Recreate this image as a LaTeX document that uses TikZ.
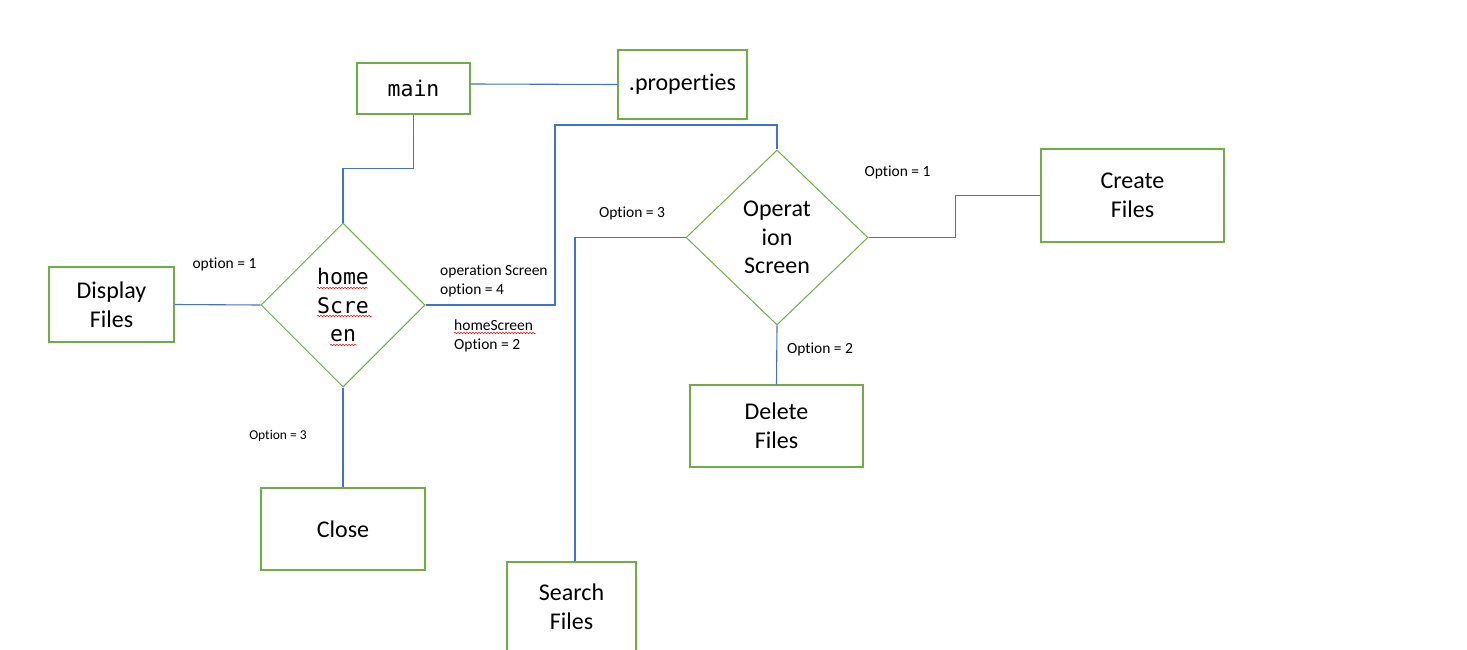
\documentclass[tikz,border=0pt]{standalone}
\usepackage{fontspec}
\setmainfont[Ligatures={NoCommon}]{Carlito}
\newfontfamily\codefont{DejaVu Sans Mono}
\usetikzlibrary{shapes.geometric,decorations.pathmorphing}
\definecolor{boxgreen}{HTML}{70AD47}
\definecolor{lineblue}{HTML}{4472C4}
\tikzset{
  x=1pt,y=-1pt,
  box/.style={draw=boxgreen,line width=1.2pt,rectangle,inner sep=0pt,align=center,
    font=\fontsize{24}{29}\selectfont},
  dia/.style={draw=boxgreen,line width=1pt,diamond,inner sep=0pt,align=center},
  conn/.style={draw=lineblue,line width=1.1pt},
  lbl/.style={inner sep=0pt,align=left,font=\fontsize{15.5}{19}\selectfont},
  spell/.style={draw=red,line width=0.5pt,decorate,decoration={snake,amplitude=0.7pt,segment length=3pt}}
}
\begin{document}
\begin{tikzpicture}
\useasboundingbox (0,0) rectangle (1467,650);
\begin{scope}
\clip (0,0) rectangle (1467,650);
% nodes
\node[box,minimum width=113pt,minimum height=51pt,font=\codefont\fontsize{21.5}{28}\selectfont] (main) at (413.5,88.5) {\raisebox{-2pt}{main}};
\node[box,minimum width=129pt,minimum height=69pt] (props) at (682.5,84.5) {.properties};
\node[box,minimum width=125pt,minimum height=75pt] (disp) at (111.5,304.5) {Display\\Files};
\node[dia,minimum width=164pt,minimum height=164pt,font=\codefont\fontsize{21.5}{28.5}\selectfont] (home) at (343,305) {home\\Scre\\en};
\node[box,minimum width=164pt,minimum height=82pt] (close) at (343,529) {Close};
\node[dia,minimum width=182pt,minimum height=175pt,font=\fontsize{24}{28.5}\selectfont] (ops) at (777,237.5) {Operat\\ion\\Screen};
\node[box,minimum width=183pt,minimum height=93pt] (create) at (1132.5,195.5) {Create\\Files};
\node[box,minimum width=173pt,minimum height=82pt] (delete) at (776.5,426) {Delete\\Files};
\node[box,minimum width=129pt,minimum height=89pt] (search) at (571.5,606.5) {Search\\Files};
% spelling marks
\draw[spell] (317,288) -- (368,288);
\draw[spell] (317,316) -- (372,316);
\draw[spell] (330,345) -- (357,345);
\draw[spell] (454,333) -- (536,333);
% connectors
\coordinate (j1) at (555,125);
\draw[conn] ([yshift=4.5pt]main.east) -- (props.west);
\draw[conn] (main.south) -- ++(0,54) -| (home.north);
\draw[conn] (disp.east) -- (home.west);
\draw[conn] (home.south) -- (close.north);
\draw[conn] (home.east) -| (j1) -| (ops.north);
\draw[conn] (ops.east) -- ++(87,0) |- (create.west);
\draw[conn] (ops.west) -| ([xshift=3.5pt]search.north);
\draw[conn] (ops.south) -- (delete.north);
% labels
\node[lbl] (l1) at (224.5,264) {option = 1};
\node[lbl,anchor=west] (l2) at (440,280.5) {operation Screen\\option = 4};
\node[lbl,anchor=west] (l3) at (454,336) {homeScreen\\Option = 2};
\node[lbl,font=\fontsize{13.5}{16}\selectfont] (l4) at (278,436) {Option = 3};
\node[lbl] (l5) at (632,213) {Option = 3};
\node[lbl] (l6) at (897.5,172) {Option = 1};
\node[lbl] (l7) at (820,349) {Option = 2};
\end{scope}
\end{tikzpicture}
\end{document}
